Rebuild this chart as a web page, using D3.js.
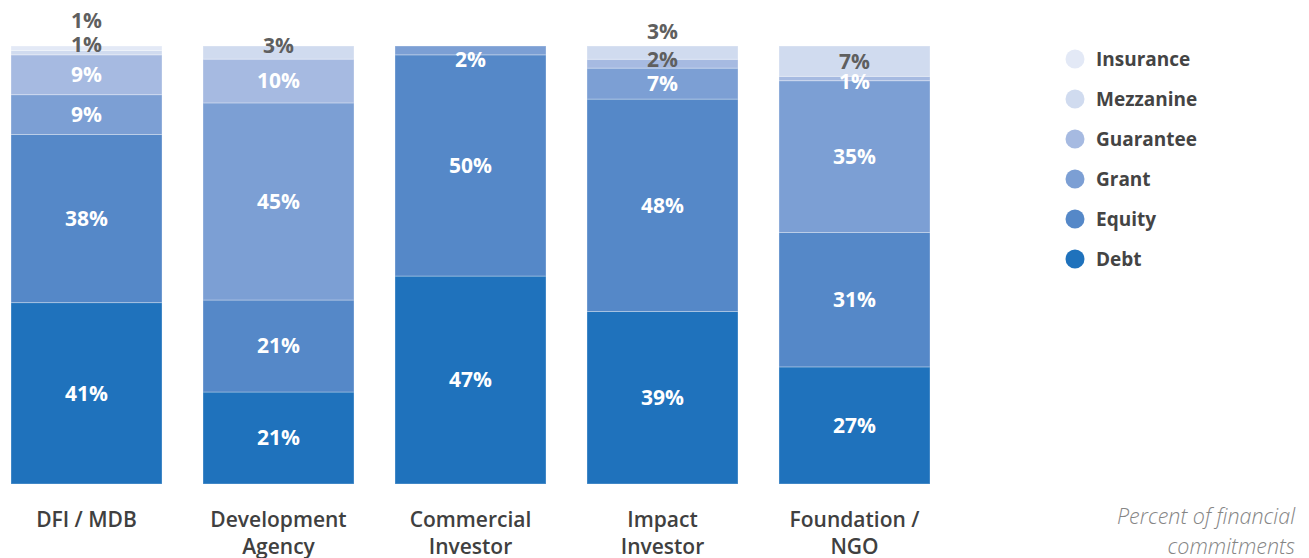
<!DOCTYPE html>
<html>
<head>
<meta charset="utf-8">
<script src="https://cdn.jsdelivr.net/npm/d3@7"></script>
<style>
  html, body { margin: 0; padding: 0; background: #fff; }
  svg { display: block; font-family: "Open Sans", "Noto Sans", sans-serif; }
</style>
</head>
<body>
<svg id="chart" width="1309" height="558"></svg>
<script>
// Investor types along the x axis
const categories = ["DFI / MDB", "Development Agency", "Commercial Investor", "Impact Investor", "Foundation / NGO"];
// Instrument series, bottom of the stack first
const series = ["Debt", "Equity", "Grant", "Guarantee", "Mezzanine", "Insurance"];
// Share of financial commitments (%) per instrument, one value per category
const debt      = [41, 21, 47, 39, 27];
const equity    = [38, 21, 50, 48, 31];
const grant     = [9, 45, 2, 7, 35];
const guarantee = [9, 10, 0, 2, 1];
const mezzanine = [1, 3, 0, 3, 7];
const insurance = [1, 0, 0, 0, 0];
// Legend order, top to bottom
const legendOrder = ["Insurance", "Mezzanine", "Guarantee", "Grant", "Equity", "Debt"];
const footnote = ["Percent of financial", "commitments"];

const colors = {
  Debt: "#1f72bc",
  Equity: "#5588c8",
  Grant: "#7c9fd4",
  Guarantee: "#a6bae1",
  Mezzanine: "#d0dbef",
  Insurance: "#e3e9f6"
};

// Small segments get their label shifted so neighbouring labels do not collide
const labelTweaks = {
  "DFI / MDB|Insurance": { dy: -28, dark: true },
  "DFI / MDB|Mezzanine": { dy: -8, dark: true },
  "Development Agency|Mezzanine": { dy: -7, dark: true },
  "Commercial Investor|Grant": { dy: 9 },
  "Impact Investor|Mezzanine": { dy: -21, dark: true },
  "Impact Investor|Guarantee": { dy: -4, dark: true },
  "Foundation / NGO|Mezzanine": { dy: 0, dark: true },
  "Foundation / NGO|Guarantee": { dy: 3 }
};

const valuesBySeries = { Debt: debt, Equity: equity, Grant: grant, Guarantee: guarantee, Mezzanine: mezzanine, Insurance: insurance };
const rows = categories.map((c, i) => {
  const r = { category: c };
  series.forEach(s => { r[s] = valuesBySeries[s][i]; });
  return r;
});

const svg = d3.select("#chart");

const x = d3.scaleBand().domain(categories).range([11, 930]).paddingInner(0.2135).paddingOuter(0);
const y = d3.scaleLinear().domain([0, 1]).range([484, 46]);

const stacked = d3.stack().keys(series).offset(d3.stackOffsetExpand)(rows);

const layers = svg.append("g").selectAll("g")
  .data(stacked)
  .join("g")
  .attr("fill", d => colors[d.key]);

layers.selectAll("rect")
  .data(d => d.filter(p => p.data[d.key] > 0))
  .join("rect")
  .attr("x", p => x(p.data.category))
  .attr("width", x.bandwidth())
  .attr("y", p => y(p[1]))
  .attr("height", p => y(p[0]) - y(p[1]))
  .attr("stroke", "rgba(255,255,255,0.3)")
  .attr("stroke-width", 1);

// Percentage labels
const labels = [];
stacked.forEach(layer => {
  layer.forEach(p => {
    const v = p.data[layer.key];
    if (v <= 0) return;
    const t = labelTweaks[p.data.category + "|" + layer.key] || {};
    labels.push({
      text: v + "%",
      x: x(p.data.category) + x.bandwidth() / 2,
      y: (y(p[0]) + y(p[1])) / 2 + (t.dy || 0),
      dark: !!t.dark
    });
  });
});

svg.append("g").selectAll("text")
  .data(labels)
  .join("text")
  .attr("x", d => d.x)
  .attr("y", d => d.y)
  .attr("dy", "0.35em")
  .attr("text-anchor", "middle")
  .attr("font-size", 21)
  .attr("font-weight", 700)
  .attr("fill", d => d.dark ? "#5f5f5f" : "#ffffff")
  .text(d => d.text);

// Category axis labels (wrapped on two lines)
const catLines = {
  "DFI / MDB": ["DFI / MDB"],
  "Development Agency": ["Development", "Agency"],
  "Commercial Investor": ["Commercial", "Investor"],
  "Impact Investor": ["Impact", "Investor"],
  "Foundation / NGO": ["Foundation /", "NGO"]
};
const axis = svg.append("g").selectAll("text")
  .data(categories)
  .join("text")
  .attr("x", c => x(c) + x.bandwidth() / 2)
  .attr("y", 527)
  .attr("text-anchor", "middle")
  .attr("font-size", 21)
  .attr("font-weight", 600)
  .attr("fill", "#404040");
axis.selectAll("tspan")
  .data(c => catLines[c].map(l => ({ l, c })))
  .join("tspan")
  .attr("x", d => x(d.c) + x.bandwidth() / 2)
  .attr("dy", (d, i) => i === 0 ? 0 : 27)
  .text(d => d.l);

// Legend
const legend = svg.append("g").attr("transform", "translate(1075,59)");
const li = legend.selectAll("g")
  .data(legendOrder)
  .join("g")
  .attr("transform", (d, i) => `translate(0,${i * 40})`);
li.append("circle").attr("r", 9.5).attr("fill", d => colors[d]);
li.append("text")
  .attr("x", 21)
  .attr("dy", "0.35em")
  .attr("font-size", 19)
  .attr("font-weight", 700)
  .attr("fill", "#444444")
  .text(d => d);

// Footnote
svg.append("text")
  .attr("x", 1295)
  .attr("y", 524)
  .attr("text-anchor", "end")
  .attr("font-size", 21.5)
  .attr("font-style", "italic")
  .attr("font-weight", 300)
  .attr("fill", "#858585")
  .selectAll("tspan")
  .data(footnote)
  .join("tspan")
  .attr("x", 1295)
  .attr("dy", (d, i) => i === 0 ? 0 : 30)
  .text(d => d);
</script>
</body>
</html>
